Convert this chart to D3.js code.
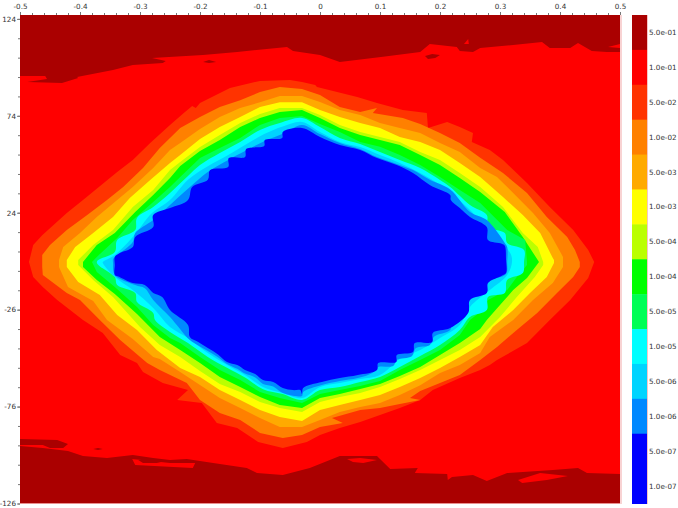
<!DOCTYPE html>
<meta charset="utf-8">
<head>
<style>
  body { margin: 0; background: #fff; }
  text { font-family: "DejaVu Sans", sans-serif; font-size: 7.2px; fill: #333; }
  .axis text { font-size: 7.2px; }
  .axis path { display: none; }
  .axis line { stroke: #777; }
</style>
<script src="https://d3js.org/d3.v7.min.js"></script>
</head>
<body>
<svg width="678" height="508"></svg>
<script>
// tick labels
var xTicks = [-0.5, -0.4, -0.3, -0.2, -0.1, 0, 0.1, 0.2, 0.3, 0.4, 0.5];
var yTicks = [124, 74, 24, -26, -76, -126];

// legend, top to bottom
var legendLabels = ["5.0e-01", "1.0e-01", "5.0e-02", "1.0e-02", "5.0e-03", "1.0e-03", "5.0e-04",
                    "1.0e-04", "5.0e-05", "1.0e-05", "5.0e-06", "1.0e-06", "5.0e-07", "1.0e-07"];
var legendColors = ["#aa0000", "#ff0000", "#ff3300", "#ff8000", "#ffaa00", "#ffff00", "#bbff00",
                    "#00ff00", "#00ff55", "#00ffff", "#00d4ff", "#0088ff", "#0000ff", "#0000ff"];

// contour outlines, [x, y]
var darkTop = [[-.5,126],[-.5,94.5],[-.458,94.5],[-.455,93],[-.488,91.4],[-.43,90.9],[-.403,93.5],[-.405,94],[-.345,97.6],[-.312,100.2],[-.262,101.2],[-.257,102.3],[-.28,103.8],[-.195,105.4],[-.138,106.9],[-.055,109.5],[-.045,107.4],[0,105.4],[.033,101.8],[.105,104.4],[.167,106.9],[.183,111],[.228,109.5],[.233,107.4],[.255,106.9],[.267,109],[.322,110.5],[.37,112.1],[.383,109],[.417,109],[.43,111.6],[.453,107.4],[.478,106.9],[.5,106.9],[.5,126]];
var darkBottom = [[-.5,-96.3],[-.462,-97.4],[-.42,-98.9],[-.395,-101.5],[-.355,-102.5],[-.312,-101],[-.278,-102.5],[-.25,-103.6],[-.222,-103],[-.178,-105.1],[-.122,-107.7],[-.105,-110.3],[-.062,-111.3],[-.017,-107.7],[.033,-101.5],[.095,-101.5],[.1,-103],[.117,-108.2],[.163,-107.7],[.158,-110.3],[.212,-110.8],[.213,-113.9],[.22,-112.3],[.255,-111.3],[.278,-114.4],[.312,-110.3],[.388,-108.7],[.43,-107.7],[.445,-110.3],[.5,-110.8],[.5,-126],[-.5,-126]];
var darkPatches = [
  [[-.5,-92.7],[-.438,-93.2],[-.42,-95.3],[-.428,-97.4],[-.45,-97.4],[-.462,-95.8],[-.5,-95.8]],
  [[-.378,-97.9],[-.37,-97.4],[-.362,-97.9],[-.37,-98.4]],
  [[.175,104.9],[.187,105.9],[.2,105.4],[.192,103.8],[.18,103.3]],
  [[-.195,101.8],[-.185,102.8],[-.173,101.8],[-.185,101.2]]
];
var redPatches = [
  [[.24,111],[.247,113.6],[.248,111]],
  [[.48,109.5],[.5,111],[.5,109]],
  [[-.313,-103],[-.25,-105.1],[-.208,-105.1],[-.212,-107.7],[-.308,-106.1]],
  [[.045,-103],[.067,-102.5],[.095,-103.6],[.072,-105.1],[.055,-104.6]],
  [[.33,-113.9],[.367,-110.3],[.413,-111.8],[.378,-113.9],[.337,-115.4]]
];
var darkInner = [[[-.303,-103.6],[-.25,-103.6],[-.272,-105.1],[-.295,-105.1]]];

var band5e2 = [[-.485,-1.4],[-.478,7.4],[-.463,12.4],[-.422,23.9],[-.395,30.6],[-.338,45],[-.312,51.2],[-.283,60],[-.25,69.3],[-.227,75.5],[-.213,79],[-.207,78],[-.2,80.6],[-.15,88.4],[-.1,92],[-.05,92.5],[-.03,91.4],[-.008,89.9],[-.005,88.9],[.062,83.7],[.095,80.6],[.138,77],[.178,75.5],[.18,67.7],[.212,70.8],[.233,68.2],[.255,65.1],[.253,60.5],[.283,56.4],[.305,51.2],[.345,39.3],[.383,26.9],[.422,15.1],[.447,4.8],[.457,-1.4],[.447,-9.7],[.417,-21],[.383,-31.3],[.345,-43.2],[.295,-52],[.283,-54.6],[.267,-57.1],[.233,-61.3],[.188,-67.5],[.167,-72.6],[.133,-76.7],[.1,-80.3],[.067,-84],[.033,-87],[0,-90.7],[-.022,-94.3],[-.062,-97.4],[-.103,-94.3],[-.138,-87],[-.172,-84.5],[-.197,-74.2],[-.238,-72.6],[-.22,-67.5],[-.262,-63.8],[-.295,-58.2],[-.305,-53.5],[-.333,-49.4],[-.362,-38],[-.395,-31.3],[-.438,-21],[-.462,-14.3],[-.478,-9.2]];
var band1e2 = [[-.463,-1.4],[-.463,2.2],[-.45,7.4],[-.422,15.1],[-.388,22.8],[-.355,30.6],[-.328,37.3],[-.295,47.1],[-.267,57.4],[-.233,67.7],[-.2,73.4],[-.167,78.5],[-.133,82],[-.1,86.3],[-.067,88.9],[-.03,87.8],[0,84.7],[.033,78.5],[.067,76],[.095,78],[.088,75.5],[.138,72.9],[.167,69.8],[.2,65.1],[.233,60],[.267,52.3],[.305,44.5],[.345,34.2],[.378,21.8],[.412,11.5],[.425,4.8],[.433,-1.4],[.433,-4],[.422,-9.2],[.395,-17.4],[.362,-27.7],[.328,-36.5],[.295,-45.3],[.267,-52],[.233,-59.7],[.2,-63.8],[.167,-68],[.15,-71.6],[.167,-72.6],[.133,-74.7],[.1,-76.7],[.067,-77.8],[.02,-81.9],[.038,-84.5],[0,-86.5],[-.03,-90.7],[-.062,-92.2],[-.1,-89.6],[-.133,-82.9],[-.167,-79.3],[-.2,-72.6],[-.222,-63.8],[-.267,-57.1],[-.288,-53.5],[-.333,-41.7],[-.367,-31.3],[-.4,-21],[-.422,-17.4],[-.462,-8.1],[-.463,-4]];
var band5e3 = [[-.435,-.4],[-.428,6.3],[-.4,13.5],[-.372,21.8],[-.338,30.6],[-.312,37.3],[-.278,47.1],[-.25,56.4],[-.233,60],[-.2,67.2],[-.167,73.4],[-.133,78],[-.1,81],[-.067,84.2],[-.03,84.2],[0,81.1],[.033,77],[.067,74.4],[.1,70.3],[.133,67.7],[.167,65.1],[.2,60],[.233,55.3],[.267,47.1],[.295,42.4],[.322,34.2],[.355,23.9],[.383,13.5],[.405,1.2],[.405,-1.4],[.405,-4],[.388,-12.3],[.355,-21],[.322,-31.3],[.283,-40.1],[.267,-48.4],[.233,-54.6],[.2,-58.7],[.167,-65],[.133,-70],[.1,-74.2],[.067,-76.2],[.033,-78.8],[0,-82.9],[-.03,-86.5],[-.067,-86.5],[-.1,-81.9],[-.133,-76.7],[-.167,-71.6],[-.2,-64.9],[-.233,-58.2],[-.267,-51.4],[-.278,-50.4],[-.312,-41.2],[-.355,-31.3],[-.378,-21.6],[-.42,-14.3],[-.435,-4]];
var band1e3 = [[-.422,-.4],[-.408,6.3],[-.378,13.5],[-.345,21.8],[-.317,31.6],[-.283,40.9],[-.25,49.7],[-.233,53.8],[-.2,62],[-.167,68.2],[-.133,73.4],[-.1,78.5],[-.067,81],[-.03,81],[0,77],[.033,73.4],[.067,70.3],[.1,67.7],[.133,63.1],[.167,60.5],[.2,56.4],[.233,49.7],[.267,42.4],[.305,32.1],[.338,22.8],[.367,13.5],[.388,.6],[.39,-.4],[.39,-1.9],[.378,-9.2],[.35,-17.4],[.322,-26.2],[.288,-35],[.267,-44.2],[.233,-50.4],[.2,-56.1],[.167,-61.3],[.133,-65.9],[.1,-70],[.067,-72.6],[.033,-75.2],[0,-77.8],[-.03,-83.4],[-.067,-81.4],[-.1,-77.8],[-.133,-72.6],[-.167,-67.5],[-.2,-60.7],[-.233,-56.1],[-.272,-46.8],[-.305,-36.5],[-.338,-28.8],[-.367,-18.4],[-.403,-11.7],[-.422,-4]];
var band5e4 = [[-.403,-.4],[-.378,7.4],[-.345,15.1],[-.312,27],[-.278,35.7],[-.25,46],[-.233,50.2],[-.2,57.9],[-.167,64.1],[-.133,70.3],[-.1,74.9],[-.067,78],[-.03,78],[0,74.4],[.033,69.3],[.067,65.6],[.1,63.1],[.133,60.5],[.167,55.3],[.2,51.2],[.233,44.5],[.267,37.3],[.305,26.9],[.338,13.5],[.363,6.3],[.372,-1.4],[.372,-3],[.358,-9.2],[.328,-19.5],[.3,-29.8],[.267,-40.1],[.233,-46.8],[.2,-52],[.167,-57.1],[.133,-61.8],[.1,-65.9],[.067,-69],[.033,-71],[0,-73.6],[-.03,-78.8],[-.067,-76.7],[-.1,-73.6],[-.133,-68.5],[-.167,-64.3],[-.2,-57.6],[-.233,-50.4],[-.267,-44.2],[-.3,-34.9],[-.345,-19.5],[-.378,-10.7],[-.403,-3]];
var band1e4 = [[-.395,-1.4],[-.372,7.4],[-.342,13.5],[-.308,24.4],[-.278,33.1],[-.25,41.9],[-.233,48.1],[-.2,55.8],[-.167,61.5],[-.133,68.2],[-.1,72.9],[-.067,76],[-.03,77],[0,72.9],[.033,67.7],[.067,64.1],[.1,61.5],[.133,58.9],[.167,53.8],[.2,48.6],[.233,41.9],[.267,34.7],[.308,24.4],[.338,11.5],[.365,-1.4],[.345,-9.7],[.322,-15.9],[.3,-23.6],[.278,-31.3],[.267,-36],[.233,-43.2],[.2,-49.4],[.167,-55.6],[.133,-60.2],[.1,-64.3],[.067,-66.9],[.033,-69.5],[0,-71.6],[-.03,-76.7],[-.067,-75.2],[-.1,-71],[-.133,-65.9],[-.167,-60.7],[-.2,-53.5],[-.233,-46.8],[-.267,-40.1],[-.305,-28.2],[-.342,-17.9],[-.372,-10.7],[-.395,-4]];
var band5e5 = [[-.38,-1.4],[-.372,1.2],[-.338,11],[-.312,20.2],[-.278,29.5],[-.25,37.3],[-.233,42.4],[-.2,52.2],[-.167,57.4],[-.133,62.6],[-.1,69.3],[-.067,72.9],[-.03,73.9],[0,69.8],[.033,65.6],[.067,60.5],[.1,58],[.133,53.8],[.167,48.6],[.2,42.4],[.233,35.7],[.267,29],[.312,15.1],[.342,9.9],[.345,-1.4],[.345,-3],[.328,-9.2],[.312,-15.9],[.28,-21],[.267,-27.2],[.25,-31.3],[.233,-39.1],[.2,-46.8],[.167,-52],[.133,-57.1],[.1,-62.8],[.067,-65.4],[.033,-67.5],[0,-69.5],[-.03,-74.2],[-.067,-71.6],[-.1,-68.5],[-.133,-62.3],[-.167,-57.1],[-.2,-50.4],[-.233,-43.2],[-.25,-40.6],[-.278,-33.9],[-.305,-24.6],[-.342,-14.3],[-.372,-6.6]];
var band1e5 = [[-.372,-1.4],[-.342,3.7],[-.338,9.9],[-.308,15.1],[-.305,21.3],[-.278,26.9],[-.25,34.2],[-.22,42.9],[-.2,48.6],[-.167,54.8],[-.133,60.5],[-.1,66.7],[-.067,70.3],[-.03,72.9],[0,68.2],[.033,62.6],[.067,59.5],[.1,55.3],[.133,51.2],[.167,47.1],[.2,40.9],[.217,37.3],[.25,28],[.278,22.8],[.28,16.6],[.308,13.5],[.312,8.4],[.34,4.8],[.34,-1.4],[.338,-7.1],[.312,-10.7],[.308,-17.4],[.28,-19.5],[.278,-26.2],[.25,-29.8],[.233,-36.5],[.2,-44.2],[.167,-49.9],[.133,-55.6],[.1,-60.7],[.067,-63.3],[.033,-65.9],[0,-67.5],[-.03,-72.6],[-.062,-69.5],[-.095,-67],[-.125,-61],[-.155,-56],[-.187,-50.4],[-.22,-43.2],[-.25,-37.5],[-.275,-31.3],[-.278,-27.7],[-.305,-22.1],[-.308,-17.4],[-.338,-13.3],[-.342,-9.2]];
var band5e6 = [[-.362,-1.4],[-.342,2.2],[-.312,11.5],[-.28,23.9],[-.25,30.6],[-.22,41],[-.187,48],[-.153,53.8],[-.125,58.9],[-.093,64.6],[-.062,68.5],[-.03,70.8],[0,65.6],[.033,60.5],[.067,57.9],[.1,53.8],[.133,49.7],[.167,44.5],[.2,38.3],[.25,25.4],[.28,15.1],[.317,3.2],[.32,-1.4],[.312,-8.1],[.283,-15.9],[.25,-24.6],[.233,-33.9],[.2,-40.6],[.167,-46.8],[.133,-51.4],[.1,-59.7],[.067,-61.8],[.033,-63.8],[0,-65.9],[-.03,-71.6],[-.062,-69],[-.095,-65.9],[-.125,-59.7],[-.155,-54.6],[-.187,-48.4],[-.22,-40.6],[-.25,-34.9],[-.278,-25.1],[-.312,-15.9],[-.342,-9.2],[-.362,-1.9]];
var band1e6 = [[-.345,0],[-.342,1.2],[-.312,8.9],[-.308,13.5],[-.278,20.2],[-.25,28],[-.213,38.3],[-.187,45],[-.153,51.2],[-.125,55.8],[-.093,60.9],[-.06,65],[-.03,69.3],[0,64.6],[.033,60],[.067,56.9],[.095,52.7],[.128,49.2],[.155,46],[.183,41],[.217,36],[.25,24.4],[.278,20.2],[.308,8.4],[.312,6.3],[.312,-1.4],[.31,-7.6],[.28,-11.7],[.278,-16.9],[.25,-20],[.247,-26.2],[.22,-32.4],[.217,-36.5],[.19,-40],[.183,-44.2],[.16,-45.8],[.153,-50],[.128,-51.9],[.122,-55.1],[.097,-55.6],[.087,-58.7],[.063,-61.3],[.033,-62.8],[.003,-64.9],[-.028,-68.5],[-.03,-70.5],[-.062,-69],[-.078,-65.6],[-.095,-64.3],[-.108,-61],[-.125,-59],[-.138,-56.5],[-.155,-54],[-.17,-50.5],[-.187,-47.3],[-.203,-44.5],[-.217,-41.7],[-.25,-29.8],[-.278,-21],[-.292,-15],[-.308,-13.3],[-.342,-8.1],[-.345,-1.9]];
var band5e7 = [[-.342,-3],[-.342,1.2],[-.335,3],[-.312,6.3],[-.308,11.5],[-.278,16.6],[-.278,22.8],[-.25,26.4],[-.22,30.6],[-.213,37.3],[-.187,41],[-.183,46],[-.153,47.6],[-.152,52.2],[-.125,52.7],[-.123,56.9],[-.093,58.4],[-.092,61.5],[-.063,62.6],[-.062,65.6],[-.03,67.7],[0,63.1],[.033,58.9],[.067,56.4],[.095,52.2],[.128,48.6],[.155,44.5],[.183,38.3],[.217,33.1],[.218,30.6],[.233,26.4],[.25,21.8],[.278,16.6],[.28,9.9],[.303,8],[.308,7],[.31,0],[.31,-7.1],[.303,-8.5],[.28,-12.3],[.278,-17.4],[.25,-21],[.247,-27.7],[.217,-35.5],[.188,-38],[.187,-42.7],[.158,-43.2],[.155,-47.8],[.128,-49.4],[.127,-53],[.097,-53.5],[.095,-57.1],[.063,-59.7],[.033,-61.3],[.003,-63.3],[-.028,-66.4],[-.03,-69.5],[-.033,-67.5],[-.045,-67.5],[-.062,-66.4],[-.078,-63.3],[-.095,-62.3],[-.108,-59.2],[-.125,-57.1],[-.138,-54.6],[-.155,-53],[-.17,-49.1],[-.187,-45.8],[-.203,-42.7],[-.217,-40.1],[-.22,-33.9],[-.25,-26.2],[-.263,-19.5],[-.278,-17.4],[-.292,-13.3],[-.312,-12.3],[-.335,-9],[-.342,-8.1]];

var bands = [band5e2, band1e2, band5e3, band1e3, band5e4, band1e4, band5e5, band1e5, band5e6, band1e6, band5e7];
var bandColors = legendColors.slice(2, 13);

var svg = d3.select("svg");
var x = d3.scaleLinear().domain([-0.5, 0.5]).range([20, 620]);
var y = d3.scaleLinear().domain([-126, 126]).range([503.5, 15]);
var line = d3.line().x(function(d) { return x(d[0]); }).y(function(d) { return y(d[1]); }).curve(d3.curveLinearClosed);
// the inner blue bands have soft scallops
var softLine = d3.line().x(function(d) { return x(d[0]); }).y(function(d) { return y(d[1]); }).curve(d3.curveCatmullRomClosed.alpha(0.5));

svg.append("clipPath").attr("id", "plot").append("rect")
    .attr("x", 20).attr("y", 15).attr("width", 600).attr("height", 488.5);

var plot = svg.append("g").attr("clip-path", "url(#plot)");
plot.append("rect").attr("x", 20).attr("y", 15).attr("width", 600).attr("height", 488.5).attr("fill", legendColors[1]);

function drawShapes(shapes, color) {
  plot.selectAll(null).data(shapes).enter().append("path")
      .attr("d", line)
      .attr("fill", color);
}
drawShapes([darkTop, darkBottom].concat(darkPatches), legendColors[0]);
drawShapes(redPatches, legendColors[1]);
drawShapes(darkInner, legendColors[0]);
plot.selectAll(".band").data(bands).enter().append("path")
    .attr("class", "band")
    .attr("d", function(d, i) { return i >= 7 ? softLine(d) : line(d); })
    .attr("fill", function(d, i) { return bandColors[i]; });

// pale edge on the right of the plot
svg.append("line").attr("x1", 621).attr("x2", 621).attr("y1", 15).attr("y2", 504)
    .attr("stroke", "#f6c4c4").attr("stroke-width", 1.5);

// axes, labels use a plain hyphen like the original
var xMinor = d3.range(-0.5, 0.5001, 0.02);
svg.append("g").attr("class", "axis").attr("transform", "translate(0,15)")
    .call(d3.axisTop(x).tickValues(xMinor).tickSize(2).tickFormat(""));
svg.append("g").attr("class", "axis").attr("transform", "translate(0,15)")
    .call(d3.axisTop(x).tickValues(xTicks).tickSize(3).tickPadding(3).tickFormat(String));

var yMinor = d3.range(-126, 126, 10);
svg.append("g").attr("class", "axis").attr("transform", "translate(20,0)")
    .call(d3.axisLeft(y).tickValues(yMinor).tickSize(2).tickFormat(""));
svg.append("g").attr("class", "axis").attr("transform", "translate(20,0)")
    .call(d3.axisLeft(y).tickValues(yTicks).tickSize(3).tickPadding(1).tickFormat(String));

// colour bar
var barY = d3.scaleBand().domain(legendLabels).range([15, 503.5]);
var bar = svg.append("g");
bar.selectAll("rect").data(legendLabels).enter().append("rect")
    .attr("x", 632).attr("width", 15)
    .attr("y", function(d) { return barY(d); })
    .attr("height", barY.bandwidth() + 0.5)
    .attr("fill", function(d, i) { return legendColors[i]; });
bar.selectAll("text").data(legendLabels).enter().append("text")
    .attr("x", 649)
    .attr("y", function(d) { return barY(d) + barY.bandwidth() / 2; })
    .attr("dy", "0.35em")
    .text(function(d) { return d; });
svg.append("line").attr("x1", 647.5).attr("x2", 647.5).attr("y1", 15).attr("y2", 504)
    .attr("stroke", "#f6c4c4").attr("stroke-width", 1);
</script>
</body>
